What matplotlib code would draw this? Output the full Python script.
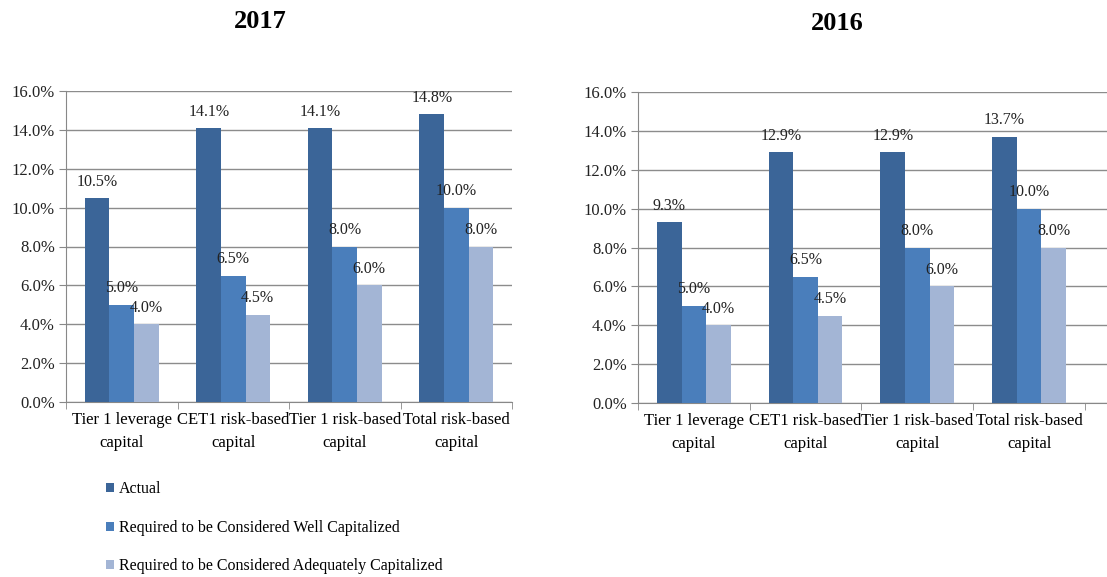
import numpy as np
import matplotlib
matplotlib.use("Agg")
import matplotlib.pyplot as plt
from matplotlib.ticker import FuncFormatter

plt.rcParams['font.family'] = ['Liberation Serif', 'DejaVu Serif']

# Chart data
categories = ["Tier 1 leverage\ncapital", "CET1 risk-based\ncapital",
              "Tier 1 risk-based\ncapital", "Total risk-based\ncapital"]
series_names = ["Actual",
                "Required to be Considered Well Capitalized",
                "Required to be Considered Adequately Capitalized"]
actual_2017 = [10.5, 14.1, 14.1, 14.8]
actual_2016 = [9.3, 12.9, 12.9, 13.7]
well_capitalized = [5.0, 6.5, 8.0, 10.0]
adequately_capitalized = [4.0, 4.5, 6.0, 8.0]
years = ["2017", "2016"]

colors = ["#3B6598", "#4A7EBB", "#A3B5D5"]
W, H = 1107, 577

fig = plt.figure(figsize=(W / 100, H / 100), dpi=100)


def px_axes(x0, y_top, x1, y_bot):
    return fig.add_axes([x0 / W, 1 - y_bot / H, (x1 - x0) / W, (y_bot - y_top) / H])


def draw_panel(ax, values, xmax):
    x = np.arange(len(categories))
    bw = 0.22
    bars = []
    for i, vals in enumerate(values):
        b = ax.bar(x + (i - 1) * bw, vals, bw, color=colors[i], zorder=3,
                   label=series_names[i])
        bars.append(b)
        for xi, v in zip(x + (i - 1) * bw, vals):
            ax.annotate(f"{v:.1f}%", (xi, v), xytext=(0, 6), textcoords="offset points",
                        ha="center", va="bottom", fontsize=11.5, color="#222222")
    ax.set_ylim(0, 16)
    ax.set_yticks(np.arange(0, 17, 2))
    ax.yaxis.set_major_formatter(FuncFormatter(lambda v, p: f"{v:.1f}%"))
    ax.set_xlim(-0.5, xmax)
    ax.set_xticks(x)
    ax.set_xticklabels(categories, fontsize=12, linespacing=1.6)
    ax.set_xticks(np.arange(-0.5, 4.0, 1.0), minor=True)
    ax.tick_params(axis="x", which="major", length=0, pad=7)
    ax.tick_params(axis="x", which="minor", length=5, color="#888888", direction="out")
    ax.tick_params(axis="y", length=5, color="#888888", labelsize=12, labelcolor="#222222", pad=3)
    ax.grid(axis="y", color="#8c8c8c", linewidth=1.0, zorder=0)
    for s in ["top", "right"]:
        ax.spines[s].set_visible(False)
    ax.spines["left"].set_color("#888888")
    ax.spines["bottom"].set_color("#888888")
    return bars


ax1 = px_axes(66, 91, 512, 402)
bars = draw_panel(ax1, [actual_2017, well_capitalized, adequately_capitalized], 3.5)
fig.text(260 / W, 1 - 21 / H, years[0], ha="center", va="center", fontsize=19, fontweight="bold")

ax2 = px_axes(638, 92, 1107, 403)
draw_panel(ax2, [actual_2016, well_capitalized, adequately_capitalized], 3.5 + 22 / 111.7)
fig.text(837 / W, 1 - 23 / H, years[1], ha="center", va="center", fontsize=19, fontweight="bold")

fig.legend(handles=bars, labels=series_names, loc="upper left",
           bbox_to_anchor=(92 / W, 1 - 467 / H), frameon=False, fontsize=11.5,
           handlelength=0.5, handleheight=0.5, handletextpad=0.3, labelspacing=1.4)

fig.savefig("out.png", dpi=100)
